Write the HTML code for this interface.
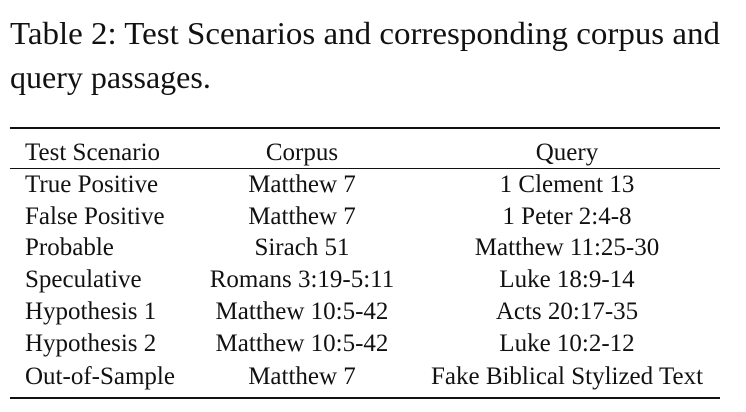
<!DOCTYPE html>
<html><head><meta charset="utf-8"><style>
html,body{margin:0;padding:0;background:#fff;}
svg{display:block;font-family:"Liberation Serif",serif;fill:#111;}
</style></head><body>
<svg width="746" height="412" viewBox="0 0 746 412">
<g font-size="32">
<text x="10" y="44" textLength="710" lengthAdjust="spacingAndGlyphs">Table 2: Test Scenarios and corresponding corpus and</text>
<text x="10" y="88">query passages.</text>
</g>
<rect x="10" y="127" width="710" height="2" fill="#111"/>
<rect x="10" y="168" width="710" height="1" fill="#111"/>
<rect x="10" y="397" width="710" height="2" fill="#111"/>
<g font-size="25">
<text x="25" y="160">Test Scenario</text>
<text x="302" y="160" text-anchor="middle">Corpus</text>
<text x="567" y="160" text-anchor="middle">Query</text>
</g>
<g font-size="25">
<g><text x="25" y="192">True Positive</text><text x="302" y="192" text-anchor="middle">Matthew 7</text><text x="567" y="192" text-anchor="middle">1 Clement 13</text></g>
<g><text x="25" y="224">False Positive</text><text x="302" y="224" text-anchor="middle">Matthew 7</text><text x="567" y="224" text-anchor="middle">1 Peter 2:4-8</text></g>
<g><text x="25" y="255">Probable</text><text x="302" y="255" text-anchor="middle">Sirach 51</text><text x="567" y="255" text-anchor="middle">Matthew 11:25-30</text></g>
<g><text x="25" y="287">Speculative</text><text x="302" y="287" text-anchor="middle">Romans 3:19-5:11</text><text x="567" y="287" text-anchor="middle">Luke 18:9-14</text></g>
<g><text x="25" y="319">Hypothesis 1</text><text x="302" y="319" text-anchor="middle">Matthew 10:5-42</text><text x="567" y="319" text-anchor="middle">Acts 20:17-35</text></g>
<g><text x="25" y="351">Hypothesis 2</text><text x="302" y="351" text-anchor="middle">Matthew 10:5-42</text><text x="567" y="351" text-anchor="middle">Luke 10:2-12</text></g>
<g><text x="25" y="384">Out-of-Sample</text><text x="302" y="384" text-anchor="middle">Matthew 7</text><text x="567" y="384" text-anchor="middle">Fake Biblical Stylized Text</text></g>
</g>
</svg>
</body></html>
